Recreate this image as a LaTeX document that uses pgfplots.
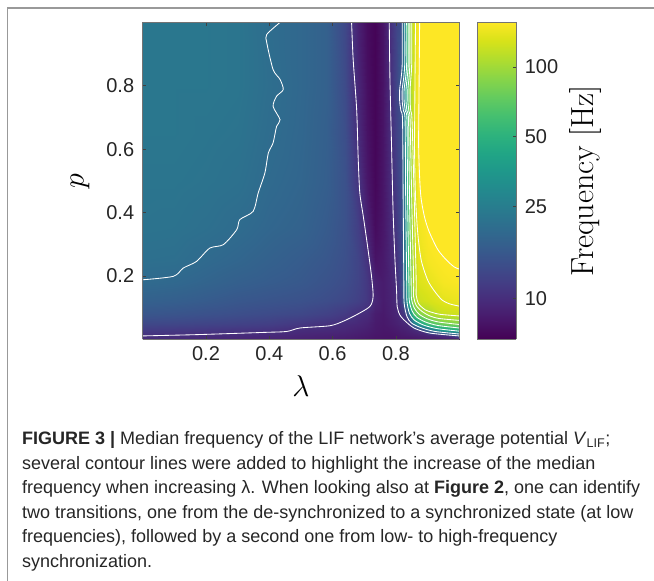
\RequirePackage{fix-cm}
\documentclass[border=0pt]{standalone}
\usepackage{pgfplots}
\usepackage{pgfplotstable}
\pgfplotsset{compat=1.18}
\usepackage{fontspec}
\newfontfamily\arial{Liberation Sans}
\pgfplotstableread{
l p f
0 0 9.7
0.1 0 9.6
0.2 0 9.4
0.3 0 9.2
0.4 0 9.0
0.5 0 8.8
0.58 0 8.6
0.64 0 8.4
0.68 0 8.2
0.71 0 8.0
0.735 0 7.8
0.76 0 7.8
0.78 0 7.8
0.80 0 7.8
0.815 0 7.9
0.825 0 7.9
0.835 0 7.9
0.845 0 7.9
0.855 0 8.0
0.87 0 8.1
0.9 0 8.2
0.95 0 8.3
1 0 8.5
0 0.015 10.4
0.1 0.015 10.2
0.2 0.015 9.95
0.3 0.015 9.8
0.4 0.015 9.6
0.5 0.015 9.2
0.58 0.015 9.0
0.64 0.015 8.8
0.68 0.015 8.5
0.71 0.015 8.3
0.735 0.015 8.0
0.76 0.015 7.9
0.78 0.015 7.9
0.80 0.015 8.0
0.815 0.015 8.2
0.825 0.015 8.3
0.835 0.015 8.4
0.845 0.015 8.5
0.855 0.015 8.6
0.87 0.015 8.8
0.9 0.015 9.2
0.95 0.015 10.5
1 0.015 16
0 0.03 11.5
0.1 0.03 11.2
0.2 0.03 11
0.3 0.03 10.7
0.4 0.03 10.5
0.5 0.03 9.8
0.58 0.03 9.6
0.64 0.03 9.3
0.68 0.03 8.9
0.71 0.03 8.6
0.735 0.03 8.2
0.76 0.03 8.0
0.78 0.03 8.1
0.80 0.03 8.3
0.815 0.03 8.6
0.825 0.03 8.7
0.835 0.03 8.9
0.845 0.03 9.1
0.855 0.03 9.4
0.87 0.03 10
0.9 0.03 19
0.95 0.03 38
1 0.03 47
0 0.05 13
0.1 0.05 12.8
0.2 0.05 12.5
0.3 0.05 12.2
0.4 0.05 11.8
0.5 0.05 11
0.58 0.05 10.3
0.64 0.05 9.8
0.68 0.05 9.4
0.71 0.05 9.0
0.735 0.05 8.3
0.76 0.05 8.1
0.78 0.05 8.4
0.80 0.05 8.7
0.815 0.05 9.1
0.825 0.05 9.3
0.835 0.05 9.6
0.845 0.05 11
0.855 0.05 21
0.87 0.05 35
0.9 0.05 58
0.95 0.05 78
1 0.05 84
0 0.08 15.3
0.1 0.08 15
0.2 0.08 14.5
0.3 0.08 14
0.4 0.08 13.5
0.5 0.08 13
0.58 0.08 12.2
0.64 0.08 11.2
0.68 0.08 10.1
0.71 0.08 9.7
0.735 0.08 8.5
0.76 0.08 8.2
0.78 0.08 8.7
0.80 0.08 9.2
0.815 0.08 10.3
0.825 0.08 11
0.835 0.08 14
0.845 0.08 30
0.855 0.08 60
0.87 0.08 82
0.9 0.08 103
0.95 0.08 121
1 0.08 124
0 0.12 17.4
0.1 0.12 17
0.2 0.12 16.3
0.3 0.12 15.5
0.4 0.12 15
0.5 0.12 14.5
0.58 0.12 13.8
0.64 0.12 13
0.68 0.12 12
0.71 0.12 11
0.735 0.12 9.2
0.76 0.12 8.4
0.78 0.12 8.9
0.80 0.12 9.6
0.815 0.12 12
0.825 0.12 19
0.835 0.12 35
0.845 0.12 62
0.855 0.12 95
0.87 0.12 122
0.9 0.12 128
0.95 0.12 137
1 0.12 142
0 0.18 19.7
0.1 0.18 19.2
0.2 0.18 18.2
0.3 0.18 17.2
0.4 0.18 16.5
0.5 0.18 15.8
0.58 0.18 14.8
0.64 0.18 13.8
0.68 0.18 12.5
0.71 0.18 11
0.735 0.18 8.8
0.76 0.18 8.4
0.78 0.18 9.0
0.80 0.18 9.9
0.815 0.18 12.8
0.825 0.18 20
0.835 0.18 44
0.845 0.18 80
0.855 0.18 110
0.87 0.18 132
0.9 0.18 139
0.95 0.18 150
1 0.18 154
0 0.25 21
0.1 0.25 20.8
0.2 0.25 19.6
0.3 0.25 18.6
0.4 0.25 17.5
0.5 0.25 16.5
0.58 0.25 15.5
0.64 0.25 14.2
0.68 0.25 12.5
0.71 0.25 10.4
0.735 0.25 7.8
0.76 0.25 8.2
0.78 0.25 9.2
0.80 0.25 10.3
0.815 0.25 13
0.825 0.25 21
0.835 0.25 47
0.845 0.25 84
0.855 0.25 112
0.87 0.25 138
0.9 0.25 150
0.95 0.25 157
1 0.25 162
0 0.35 22
0.1 0.35 21.8
0.2 0.35 21
0.3 0.35 20
0.4 0.35 18.7
0.5 0.35 17.8
0.58 0.35 16.3
0.64 0.35 14.5
0.68 0.35 11.8
0.71 0.35 9.0
0.735 0.35 7.3
0.76 0.35 8.0
0.78 0.35 9.4
0.80 0.35 11
0.815 0.35 13.5
0.825 0.35 22
0.835 0.35 50
0.845 0.35 88
0.855 0.35 114
0.87 0.35 146
0.9 0.35 160
0.95 0.35 170
1 0.35 175
0 0.5 22.5
0.1 0.5 22.5
0.2 0.5 22
0.3 0.5 21.3
0.4 0.5 19.6
0.5 0.5 18.5
0.58 0.5 17
0.64 0.5 14.5
0.68 0.5 10.6
0.71 0.5 8.0
0.735 0.5 7.0
0.76 0.5 7.9
0.78 0.5 9.6
0.80 0.5 11.5
0.815 0.5 14
0.825 0.5 23
0.835 0.5 53
0.845 0.5 92
0.855 0.5 116
0.87 0.5 155
0.9 0.5 185
0.95 0.5 200
1 0.5 205
0 0.65 23
0.1 0.65 23
0.2 0.65 22.5
0.3 0.65 22
0.4 0.65 20.2
0.5 0.65 18.8
0.58 0.65 17.2
0.64 0.65 14
0.68 0.65 9.8
0.71 0.65 7.7
0.735 0.65 6.9
0.76 0.65 7.8
0.78 0.65 9.8
0.80 0.65 12
0.815 0.65 14
0.825 0.65 24
0.835 0.65 55
0.845 0.65 95
0.855 0.65 120
0.87 0.65 160
0.9 0.65 190
0.95 0.65 200
1 0.65 205
0 0.8 23
0.1 0.8 23
0.2 0.8 23
0.3 0.8 22.5
0.4 0.8 20.6
0.5 0.8 19
0.58 0.8 17.5
0.64 0.8 13.5
0.68 0.8 9.3
0.71 0.8 7.5
0.735 0.8 6.85
0.76 0.8 7.8
0.78 0.8 9.9
0.80 0.8 12.5
0.815 0.8 16
0.825 0.8 28
0.835 0.8 60
0.845 0.8 100
0.855 0.8 125
0.87 0.8 165
0.9 0.8 195
0.95 0.8 205
1 0.8 210
0 1 23
0.1 1 23
0.2 1 23
0.3 1 22.5
0.4 1 20.3
0.5 1 19
0.58 1 17.5
0.64 1 13
0.68 1 8.8
0.71 1 7.3
0.735 1 6.8
0.76 1 7.8
0.78 1 10.1
0.80 1 12.5
0.815 1 14
0.825 1 25
0.835 1 58
0.845 1 98
0.855 1 124
0.87 1 165
0.9 1 195
0.95 1 205
1 1 210
}\freqtable
\pgfplotsset{
  myframe/.style={
    scale only axis, view={0}{90}, zmin=-1, zmax=1, ztick=\empty,
    tick align=inside, major tick length=3.5pt,
    tick style={black!75, line width=0.6pt},
    axis line style={black!55, line width=0.7pt},
    ticklabel style={font=\arial\fontsize{20}{24}\selectfont, text=black!85},
    axis on top, colormap/viridis,
    point meta min=0.822, point meta max=2.193,
  },
  cline/.style={white, line width=0.85pt, no marks, smooth, tension=0.45},
}
\begin{document}
\begin{tikzpicture}
\useasboundingbox (0,0) rectangle (654pt,581pt);
\fill[white] (0,0) rectangle (654pt,581pt);
\draw[black!40, line width=1.3pt] (7.5pt,0) -- (7.5pt,573pt) -- (654pt,573pt);
\begin{axis}[myframe,
  at={(142.7pt,241.6pt)}, anchor=south west,
  width=316.5pt, height=317pt,
  xmin=0, xmax=1, ymin=0, ymax=1,
  xtick={0.2,0.4,0.6,0.8}, xticklabels={0.2,0.4,0.6,0.8},
  ytick={0.2,0.4,0.6,0.8}, yticklabels={0.2,0.4,0.6,0.8},
  xticklabel style={yshift=-3.5pt},
  yticklabel style={xshift=-5pt},
  xlabel={$\lambda$},
  xlabel style={at={(axis description cs:0.5,-0.146)}, anchor=center, font=\fontsize{30}{34}\selectfont},
  ylabel={$p$},
  ylabel style={at={(axis description cs:-0.198,0.5)}, anchor=center, font=\fontsize{30}{34}\selectfont},
]
\addplot3[surf, shader=interp, mesh/rows=13, mesh/cols=23,
  point meta={log10(\thisrow{f})}] table[x=l, y=p, z expr=0] {\freqtable};
% contour 20 Hz (left)
\addplot3[cline] coordinates {(0,0.188,0) (0.097,0.199,0) (0.128,0.225,0) (0.170,0.246,0) (0.212,0.288,0) (0.255,0.299,0) (0.297,0.346,0) (0.307,0.378,0) (0.349,0.404,0) (0.365,0.462,0) (0.386,0.525,0) (0.397,0.588,0) (0.412,0.620,0) (0.423,0.672,0) (0.434,0.693,0) (0.412,0.735,0) (0.423,0.767,0) (0.444,0.788,0) (0.434,0.820,0) (0.412,0.851,0) (0.392,0.936,0) (0.392,0.962,0) (0.434,1.0,0)};
% contour 10 Hz (bottom / left of dark band)
\addplot3[cline] coordinates {(0,0.011,0) (0.170,0.015,0) (0.381,0.022,0) (0.455,0.025,0) (0.497,0.036,0) (0.591,0.043,0) (0.633,0.057,0) (0.676,0.078,0) (0.718,0.104,0) (0.728,0.136,0) (0.723,0.199,0) (0.712,0.283,0) (0.697,0.388,0) (0.686,0.462,0) (0.681,0.567,0) (0.676,0.725,0) (0.665,0.883,0) (0.660,1.0,0)};
% contour 10 Hz (right of dark band)
\addplot3[cline] coordinates {(0.779,1.0,0) (0.781,0.830,0) (0.786,0.620,0) (0.791,0.409,0) (0.797,0.251,0) (0.802,0.157,0) (0.804,0.104,0) (0.812,0.078,0) (0.825,0.062,0) (0.857,0.036,0) (0.907,0.020,0) (1.0,0.011,0)};
% steep cluster
\addplot3[cline] coordinates {(0.820,1,0) (0.820,0.87,0) (0.816,0.82,0) (0.812,0.79,0) (0.812,0.75,0) (0.816,0.72,0) (0.821,0.69,0) (0.823,0.44,0) (0.825,0.19,0) (0.826,0.115,0) (0.835,0.072,0) (0.850,0.051,0) (0.882,0.036,0) (0.924,0.025,0) (1.0,0.017,0)};
\addplot3[cline] coordinates {(0.828,1,0) (0.828,0.87,0) (0.824,0.82,0) (0.820,0.79,0) (0.820,0.75,0) (0.824,0.72,0) (0.829,0.69,0) (0.831,0.44,0) (0.834,0.19,0) (0.835,0.12,0) (0.843,0.082,0) (0.858,0.061,0) (0.888,0.045,0) (0.930,0.034,0) (1.0,0.026,0)};
\addplot3[cline] coordinates {(0.834,1,0) (0.834,0.87,0) (0.830,0.82,0) (0.826,0.79,0) (0.826,0.75,0) (0.830,0.72,0) (0.835,0.69,0) (0.837,0.44,0) (0.841,0.19,0) (0.842,0.125,0) (0.851,0.090,0) (0.866,0.070,0) (0.893,0.055,0) (0.932,0.044,0) (1.0,0.036,0)};
\addplot3[cline] coordinates {(0.839,1,0) (0.839,0.87,0) (0.835,0.82,0) (0.832,0.79,0) (0.832,0.75,0) (0.835,0.72,0) (0.840,0.69,0) (0.843,0.44,0) (0.848,0.19,0) (0.849,0.13,0) (0.858,0.099,0) (0.874,0.079,0) (0.899,0.065,0) (0.934,0.055,0) (1.0,0.047,0)};
\addplot3[cline] coordinates {(0.844,1,0) (0.844,0.87,0) (0.841,0.82,0) (0.838,0.79,0) (0.838,0.75,0) (0.841,0.72,0) (0.845,0.69,0) (0.850,0.44,0) (0.856,0.19,0) (0.856,0.135,0) (0.865,0.106,0) (0.883,0.088,0) (0.905,0.075,0) (0.936,0.066,0) (1.0,0.060,0)};
\addplot3[cline] coordinates {(0.850,1,0) (0.850,0.87,0) (0.847,0.82,0) (0.845,0.79,0) (0.845,0.75,0) (0.847,0.72,0) (0.851,0.69,0) (0.858,0.44,0) (0.864,0.19,0) (0.864,0.14,0) (0.872,0.112,0) (0.893,0.093,0) (0.915,0.085,0) (0.940,0.079,0) (1.0,0.074,0)};
% yellow-region contours
\addplot3[cline] coordinates {(0.862,1,0) (0.860,0.77,0) (0.859,0.6,0) (0.862,0.45,0) (0.869,0.336,0) (0.880,0.25,0) (0.90,0.188,0) (0.92,0.155,0) (0.945,0.125,0) (0.97,0.112,0) (1.0,0.105,0)};
\addplot3[cline] coordinates {(0.875,1,0) (0.873,0.77,0) (0.872,0.6,0) (0.878,0.46,0) (0.890,0.388,0) (0.905,0.34,0) (0.932,0.284,0) (0.96,0.25,0) (0.985,0.228,0) (1.0,0.222,0)};
\end{axis}
% colour bar (log10 of frequency, ticks labelled in Hz)
\begin{axis}[myframe,
  at={(477pt,241.6pt)}, anchor=south west,
  width=39pt, height=317pt,
  xmin=0, xmax=1, ymin=0.822, ymax=2.193,
  xtick=\empty,
  ytick={1,1.39794,1.69897,2}, yticklabels={10,25,50,100},
  ytick pos=right, yticklabel pos=right,
  yticklabel style={xshift=5.3pt},
  ylabel={Frequency [Hz]},
  ylabel style={at={(axis description cs:2.79,0.5)}, anchor=center, font=\fontsize{32}{36}\selectfont},
]
\addplot3[surf, shader=interp, mesh/cols=2, point meta=y] coordinates {
(0,0.822,0) (1,0.822,0)
(0,1.0,0) (1,1.0,0)
(0,1.2,0) (1,1.2,0)
(0,1.4,0) (1,1.4,0)
(0,1.6,0) (1,1.6,0)
(0,1.8,0) (1,1.8,0)
(0,2.0,0) (1,2.0,0)
(0,2.193,0) (1,2.193,0)
};
\end{axis}
\begin{scope}[every node/.style={anchor=base west, inner sep=0pt, font=\arial\fontsize{18}{21}\selectfont, text=black!85}]
\node at (22pt,136pt) {\textbf{FIGURE 3 |} Median frequency of the LIF network’s average potential \textit{V}\textsubscript{LIF};};
\node at (22pt,111pt) {several contour lines were added to highlight the increase of the median};
\node at (22pt,87pt) {frequency when increasing λ. When looking also at \textbf{Figure 2}, one can identify};
\node at (22pt,62pt) {two transitions, one from the de-synchronized to a synchronized state (at low};
\node at (22pt,38pt) {frequencies), followed by a second one from low- to high-frequency};
\node at (22pt,13pt) {synchronization.};
\end{scope}
\end{tikzpicture}
\end{document}
